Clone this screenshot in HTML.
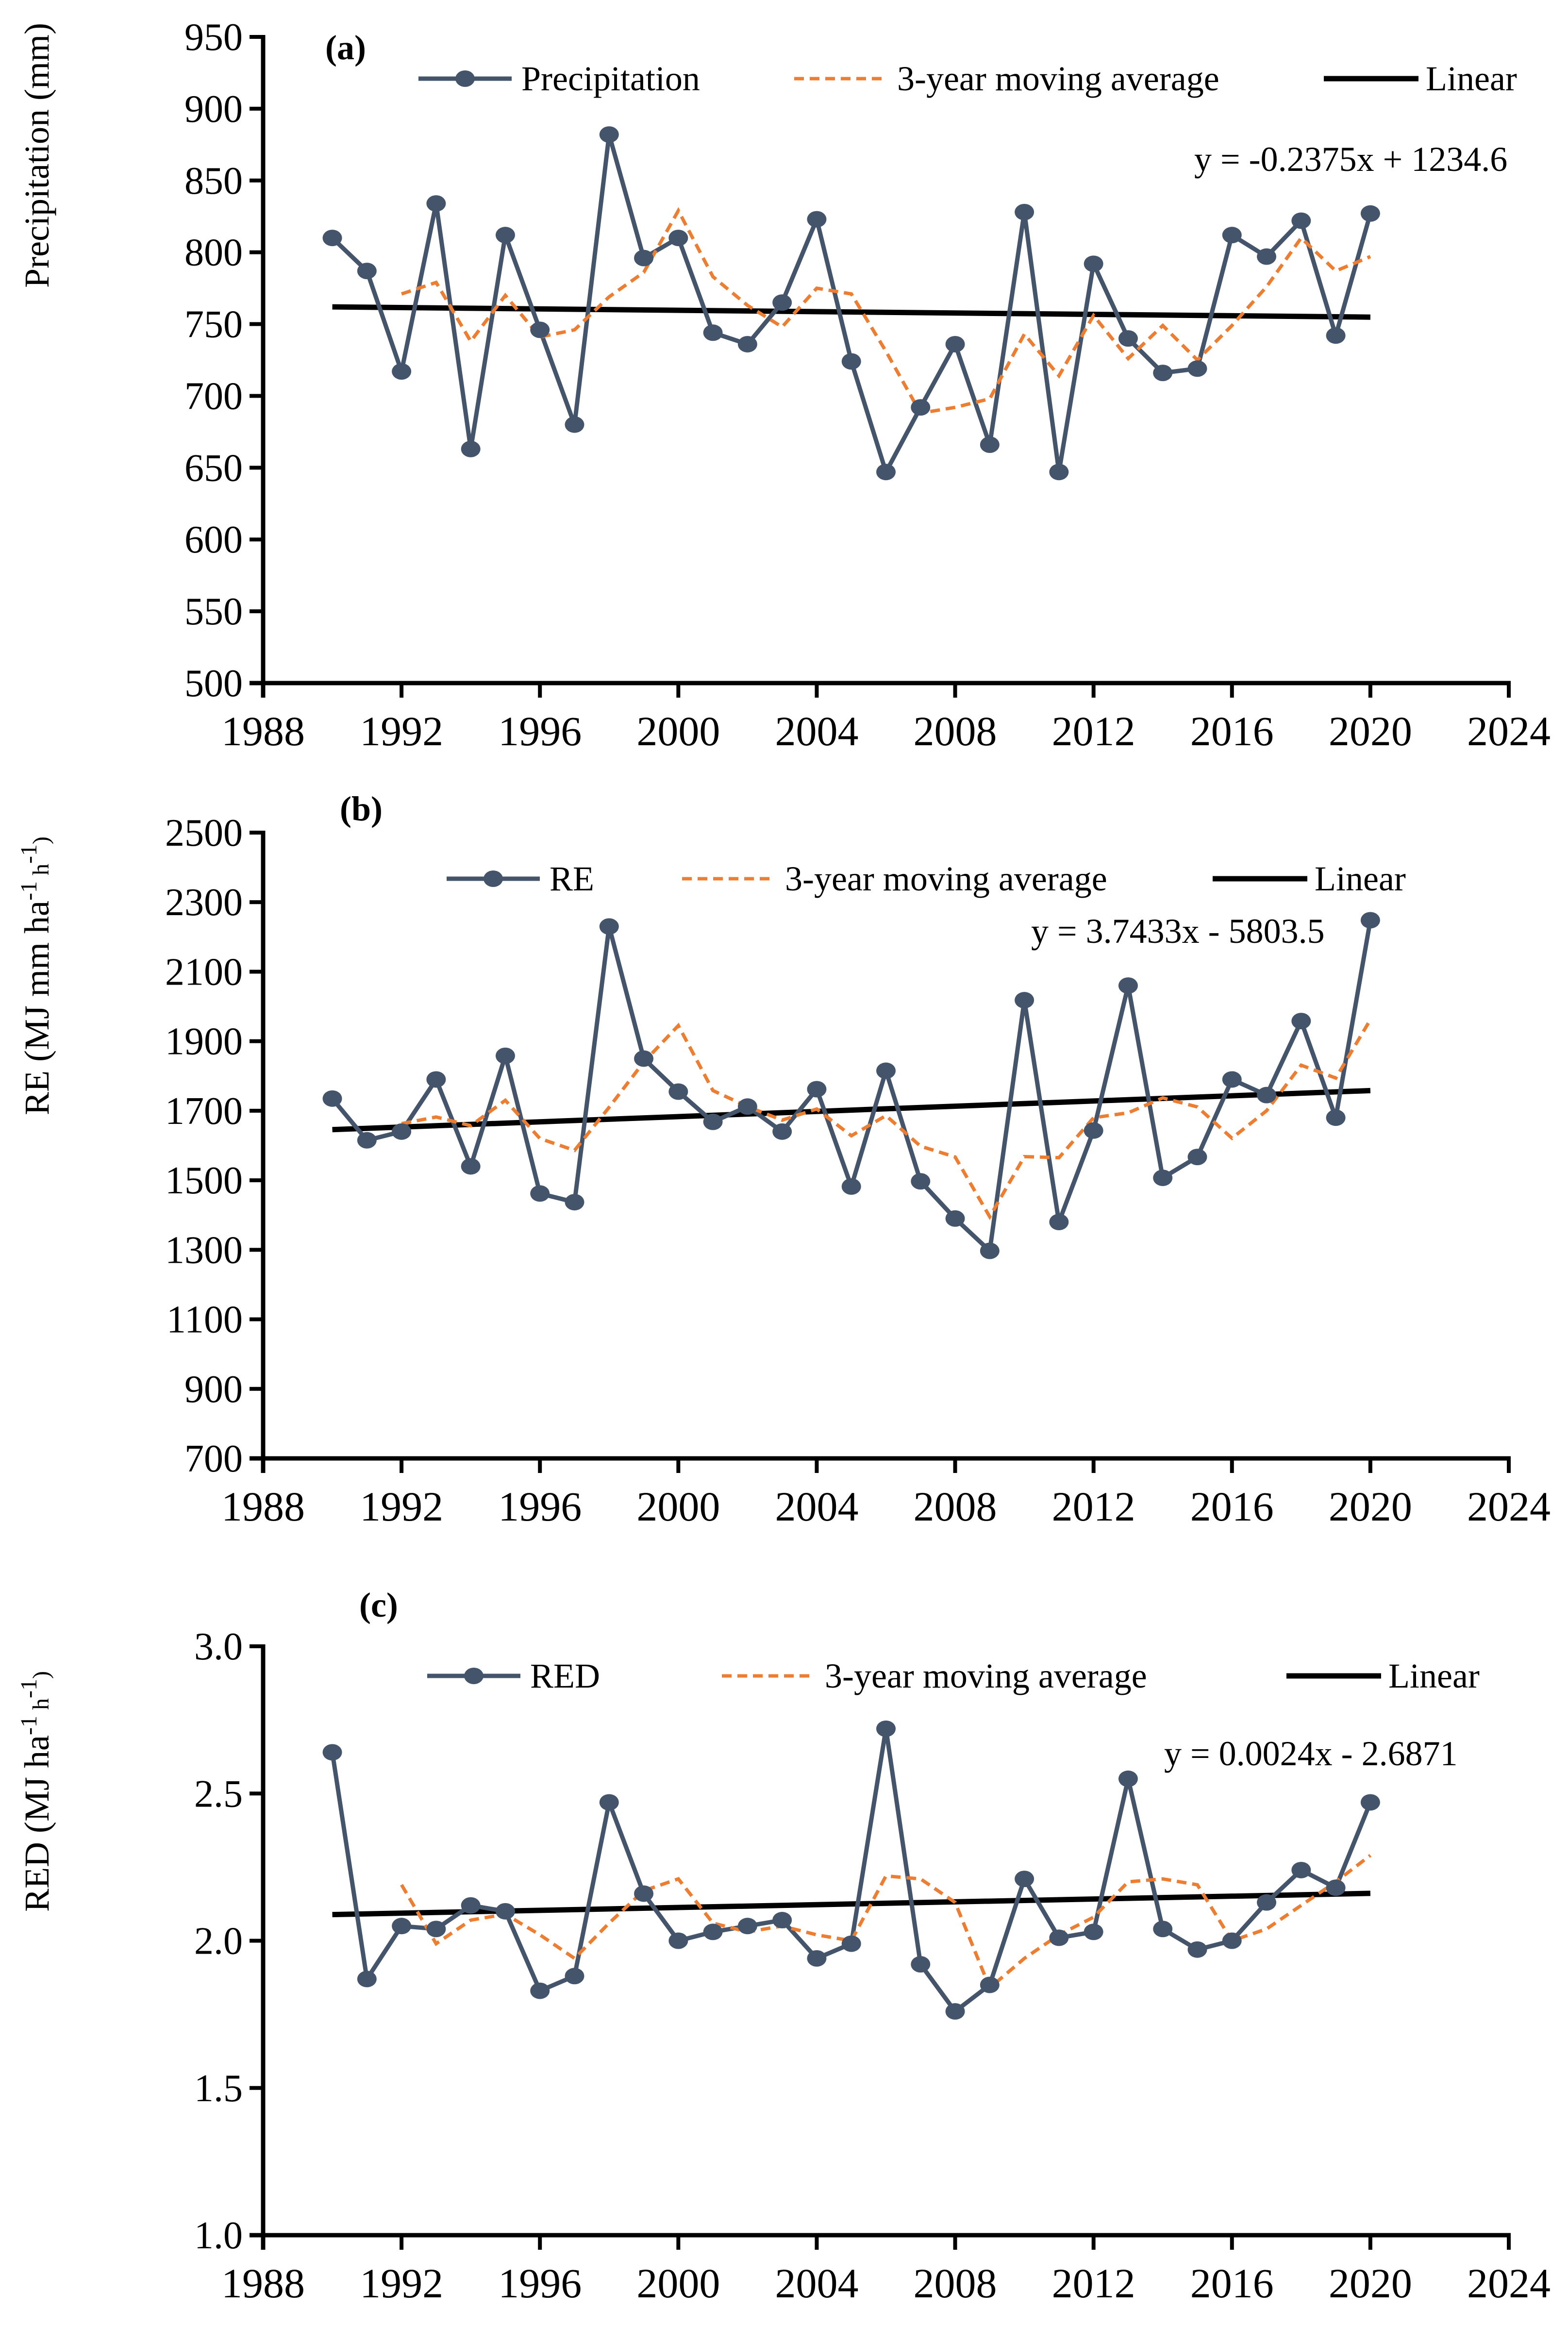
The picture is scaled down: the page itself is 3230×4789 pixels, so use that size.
<!DOCTYPE html>
<html><head><meta charset="utf-8"><style>
html,body{margin:0;padding:0;background:#fff}
svg{display:block}
text{font-family:"Liberation Serif",serif;fill:#000}
</style></head><body>
<svg id="fig" xmlns="http://www.w3.org/2000/svg" width="3230" height="4789" viewBox="0 0 3230 4789"></svg>
<script>
const years = [1990,1991,1992,1993,1994,1995,1996,1997,1998,1999,2000,2001,2002,2003,2004,2005,2006,2007,2008,2009,2010,2011,2012,2013,2014,2015,2016,2017,2018,2019,2020];
const maYears = years.slice(2);
const xTicks = [1988,1992,1996,2000,2004,2008,2012,2016,2020,2024];

const precip = [810,787,717,834,663,812,746,680,882,796,810,744,736,765,823,724,647,692,736,666,828,647,792,740,716,719,812,797,822,742,827];
const precipMA = [771,779,738,770,741,746,769,786,829,783,763,748,775,771,731,688,692,698,743,714,756,726,749,725,749,776,810,787,797];
const precipTrend = [-0.2375,1234.6];
const precipTicks = [500,550,600,650,700,750,800,850,900,950];

const re = [1735,1615,1640,1790,1540,1858,1462,1437,2230,1850,1755,1668,1712,1640,1762,1482,1815,1497,1390,1297,2018,1380,1643,2060,1507,1567,1790,1745,1958,1680,2248];
const reMA = [1663,1682,1657,1730,1620,1586,1710,1840,1945,1758,1712,1673,1705,1628,1686,1598,1567,1395,1568,1565,1680,1694,1737,1711,1621,1700,1831,1794,1962];
const reTrend = [3.7433,-5803.5];
const reTicks = [700,900,1100,1300,1500,1700,1900,2100,2300,2500];

const red = [2.64,1.87,2.05,2.04,2.12,2.10,1.83,1.88,2.47,2.16,2.00,2.03,2.05,2.07,1.94,1.99,2.72,1.92,1.76,1.85,2.21,2.01,2.03,2.55,2.04,1.97,2.00,2.13,2.24,2.18,2.47];
const redMA = [2.19,1.99,2.07,2.09,2.02,1.94,2.06,2.17,2.21,2.06,2.03,2.05,2.02,2.00,2.22,2.21,2.13,1.84,1.94,2.02,2.08,2.20,2.21,2.19,2.00,2.04,2.12,2.20,2.29];
const redTrend = [0.0024,-2.6871];
const redTicks = ['1.0','1.5','2.0','2.5','3.0'];

const NS='http://www.w3.org/2000/svg';
const svg=document.getElementById('fig');
function mk(tag,attrs,parent,txt){const e=document.createElementNS(NS,tag);for(const k in attrs)e.setAttribute(k,attrs[k]);if(txt!==undefined)e.textContent=txt;(parent||svg).appendChild(e);return e;}
const X0=542,X1=3108;
function xs(v){return X0+(v-1988)/(2024-1988)*(X1-X0);}

function panel(o){
  const g=mk('g',{});
  
  
  const ys=v=>o.yb+(v-o.min)/(o.max-o.min)*(o.yt-o.yb);
  const ya=mk('line',{x1:X0,y1:o.yt-4,x2:X0,y2:o.yb+30,stroke:'#000','stroke-width':9},g);
  
  const xa=mk('line',{x1:X0-28,y1:o.yb,x2:X1+4,y2:o.yb,stroke:'#000','stroke-width':9},g);
  
  o.ticks.forEach(t=>{const v=parseFloat(t);const y=ys(v);
    mk('line',{x1:X0-28,y1:y,x2:X0,y2:y,stroke:'#000','stroke-width':8},g);
    const tl=mk('text',{x:500,y:y+27,'text-anchor':'end','font-size':80},g,t);
    
  });
  xTicks.forEach(t=>{const x=xs(t);
    mk('line',{x1:x,y1:o.yb,x2:x,y2:o.yb+30,stroke:'#000','stroke-width':8},g);
    const tl=mk('text',{x:x,y:o.yb+128,'text-anchor':'middle','font-size':86},g,t);
    
  });
  const yt=mk('text',{x:0,y:0,'text-anchor':'middle','font-size':72,transform:`translate(${o.titleX},${o.titleY}) rotate(-90)`},g);
  
  o.title(yt);
  const pl=mk('text',{x:o.lab[0],y:o.lab[1],'font-size':72,'font-weight':'bold'},g,o.labTxt);
  
  const tr=mk('line',{x1:xs(1990),y1:ys(o.trend[0]*1990+o.trend[1]),x2:xs(2020),y2:ys(o.trend[0]*2020+o.trend[1]),stroke:'#000','stroke-width':11},g);
  
  const mp=mk('polyline',{points:years.map((y,i)=>xs(y)+','+ys(o.data[i])).join(' '),fill:'none',stroke:'#44546a','stroke-width':9,'stroke-linejoin':'round'},g);
  
  const ma=mk('polyline',{points:maYears.map((y,i)=>xs(y)+','+ys(o.ma[i])).join(' '),fill:'none',stroke:'#ed7d31','stroke-width':7,'stroke-dasharray':'20 12'},g);
  
  years.forEach((y,i)=>{const c=mk('ellipse',{cx:xs(y),cy:ys(o.data[i]),rx:20,ry:17,fill:'#44546a'},g);
    });
  const L=o.leg,ly=L.y;
  const le1=mk('g',{},g);
  mk('line',{x1:L.a,y1:ly,x2:L.a+192,y2:ly,stroke:'#44546a','stroke-width':9},le1);
  mk('ellipse',{cx:L.a+96,cy:ly,rx:20,ry:17,fill:'#44546a'},le1);
  mk('text',{x:L.a+212,y:ly+24,'font-size':72},le1,o.sname);
  const le2=mk('g',{},g);
  mk('line',{x1:L.b,y1:ly,x2:L.b+192,y2:ly,stroke:'#ed7d31','stroke-width':7,'stroke-dasharray':'20 12'},le2);
  mk('text',{x:L.b+212,y:ly+24,'font-size':72},le2,'3-year moving average');
  const le3=mk('g',{},g);
  mk('line',{x1:L.c,y1:ly,x2:L.c+195,y2:ly,stroke:'#000','stroke-width':11},le3);
  mk('text',{x:L.c+210,y:ly+24,'font-size':72},le3,'Linear');
  const eq=mk('text',{x:o.eq[0],y:o.eq[1],'font-size':72},g,o.eqTxt);
  
}

function sup(el,parts){parts.forEach(p=>{const t=document.createElementNS(NS,'tspan');t.textContent=p[0];if(p[1]){t.setAttribute('font-size','48');t.setAttribute('dy',p[1]);}el.appendChild(t);});}

panel({name:'panel-a-precipitation',yt:76,yb:1407,min:500,max:950,ticks:precipTicks.map(String),data:precip,ma:precipMA,trend:precipTrend,
  titleX:100,titleY:320,title:e=>{e.textContent='Precipitation (mm)';},lab:[670,122],labTxt:'(a)',
  leg:{y:162,a:862,b:1636,c:2727},sname:'Precipitation',eq:[2460,352],eqTxt:'y = -0.2375x + 1234.6'});
panel({name:'panel-b-re',yt:1715,yb:3004,min:700,max:2500,ticks:reTicks.map(String),data:re,ma:reMA,trend:reTrend,
  titleX:100,titleY:2010,title:e=>sup(e,[['RE  (MJ mm ha'],['-1','-25'],[' h','25'],['-1','-25'],[')','25']]),lab:[700,1690],labTxt:'(b)',
  leg:{y:1810,a:920,b:1405,c:2498},sname:'RE',eq:[2124,1942],eqTxt:'y = 3.7433x - 5803.5'});
panel({name:'panel-c-red',yt:3391,yb:4604,min:1,max:3,ticks:redTicks,data:red,ma:redMA,trend:redTrend,
  titleX:100,titleY:3690,title:e=>sup(e,[['RED (MJ ha'],['-1','-25'],[' h','25'],['-1','-25'],[')','25']]),lab:[740,3330],labTxt:'(c)',
  leg:{y:3452,a:880,b:1487,c:2650},sname:'RED',eq:[2398,3636],eqTxt:'y = 0.0024x - 2.6871'});
</script>
</body></html>
